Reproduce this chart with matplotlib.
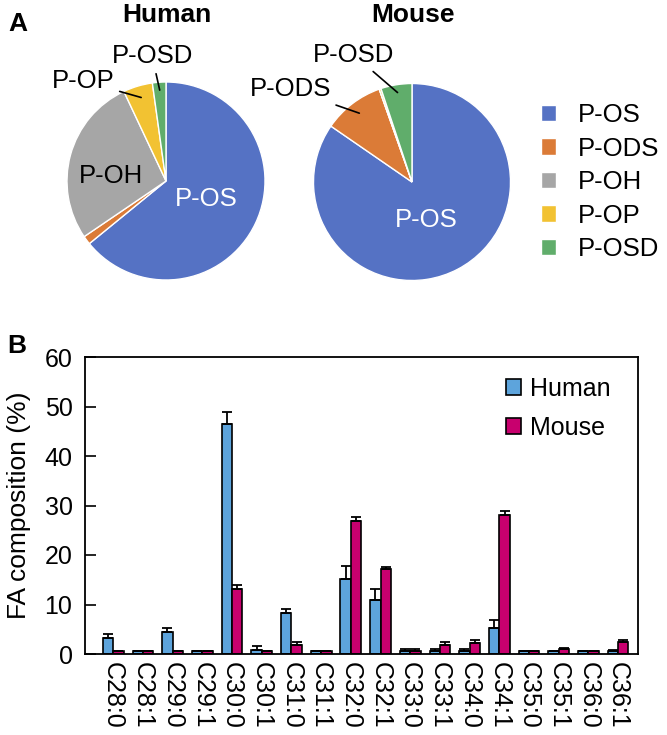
import numpy as np
import matplotlib
matplotlib.use('Agg')
import matplotlib.pyplot as plt

plt.rcParams['font.family'] = ['Liberation Sans', 'DejaVu Sans']

# ---------- panel A data (percent of total)
pie_labels = ['P-OS', 'P-ODS', 'P-OH', 'P-OP', 'P-OSD']
pie_colors = ['#5572C4', '#DB7B37', '#A6A6A6', '#F2C232', '#60AD6B']
human_pie = [64.1, 1.4, 27.5, 4.8, 2.2]
mouse_pie = [84.6, 10.0, 0.0, 0.3, 5.1]

# ---------- panel B data
categories = ['C28:0', 'C28:1', 'C29:0', 'C29:1', 'C30:0', 'C30:1', 'C31:0', 'C31:1', 'C32:0',
              'C32:1', 'C33:0', 'C33:1', 'C34:0', 'C34:1', 'C35:0', 'C35:1', 'C36:0', 'C36:1']
human = [3.2, 0.6, 4.5, 0.6, 46.4, 0.8, 8.2, 0.6, 15.1, 11.0, 0.7, 0.7, 0.7, 5.2, 0.6, 0.6, 0.6, 0.7]
human_sd = [0.9, 0.1, 0.8, 0.1, 2.5, 0.8, 0.8, 0.1, 2.7, 2.1, 0.3, 0.4, 0.4, 1.7, 0.1, 0.1, 0.1, 0.1]
mouse = [0.6, 0.6, 0.6, 0.6, 13.1, 0.6, 1.9, 0.6, 26.9, 17.1, 0.7, 1.9, 2.3, 28.0, 0.6, 1.0, 0.6, 2.4]
mouse_sd = [0.1, 0.1, 0.1, 0.1, 0.8, 0.1, 0.5, 0.1, 0.8, 0.4, 0.3, 0.5, 0.5, 0.8, 0.1, 0.2, 0.1, 0.4]

W, H = 667, 735
fig = plt.figure(figsize=(W / 100, H / 100), dpi=100)


def px_axes(cx, cy, r):
    # square axes centred on a pixel position
    return fig.add_axes([(cx - r) / W, 1 - (cy + r) / H, 2 * r / W, 2 * r / H])


def draw_pie(ax, values, inner, outer):
    wedges, _ = ax.pie(values, colors=pie_colors, startangle=90, counterclock=False,
                       wedgeprops=dict(edgecolor='white', linewidth=1.0))
    ax.set_xlim(-1, 1)
    ax.set_ylim(-1, 1)
    for idx, pos, col in inner:
        ax.text(pos[0], pos[1], pie_labels[idx], color=col, fontsize=18.5,
                ha='center', va='center')
    for idx, pos, rr in outer:
        w = wedges[idx]
        th = np.deg2rad((w.theta1 + w.theta2) / 2)
        ax.annotate(pie_labels[idx], xy=(rr * np.cos(th), rr * np.sin(th)), xytext=pos,
                    fontsize=18.5, ha='center', va='center', annotation_clip=False,
                    arrowprops=dict(arrowstyle='-', color='black', lw=1.2,
                                    shrinkA=2, shrinkB=0))
    return wedges


ax1 = px_axes(166, 181, 99)
wedges = draw_pie(ax1, human_pie,
                  inner=[(0, (0.41, -0.18), 'white'), (2, (-0.56, 0.05), 'black')],
                  outer=[(3, (-0.84, 1.01), 0.88), (4, (-0.14, 1.26), 0.92)])

ax2 = px_axes(412, 182, 98.5)
draw_pie(ax2, mouse_pie,
         inner=[(0, (0.14, -0.39), 'white')],
         outer=[(1, (-1.23, 0.94), 0.88), (4, (-0.59, 1.29), 0.92)])

fig.text(167 / W, 1 - 15 / H, 'Human', fontsize=19, fontweight='bold', ha='center', va='center')
fig.text(413 / W, 1 - 15 / H, 'Mouse', fontsize=19, fontweight='bold', ha='center', va='center')

fig.legend(wedges, pie_labels, loc='upper left', bbox_to_anchor=(541 / W, 1 - 103 / H),
           frameon=False, fontsize=18.5, handlelength=0.6, handleheight=0.6,
           handletextpad=0.85, labelspacing=0.37, borderpad=0, borderaxespad=0)

# ---------- panel B
ax3 = fig.add_axes([85 / W, 1 - 654 / H, 553 / W, 297 / H])
x = np.arange(len(categories))
bw = 0.35
err_h = [np.zeros(len(human)), human_sd]
err_m = [np.zeros(len(mouse)), mouse_sd]
ax3.bar(x - bw / 2, human, bw, color='#5DA4DC', edgecolor='black', linewidth=1.2,
        yerr=err_h, capsize=3.6, error_kw=dict(elinewidth=1.3, capthick=1.3), label='Human',
        zorder=2)
ax3.bar(x + bw / 2, mouse, bw, color='#C8006E', edgecolor='black', linewidth=1.2,
        yerr=err_m, capsize=3.6, error_kw=dict(elinewidth=1.3, capthick=1.3), label='Mouse',
        zorder=2)
ax3.set_xlim(-0.95, len(categories) - 0.33)
ax3.set_ylim(0, 60)
ax3.set_yticks(range(0, 61, 10))
ax3.set_xticks(x)
ax3.set_xticklabels(categories, rotation=270, fontsize=18)
ax3.tick_params(axis='x', length=0, pad=6)
ax3.tick_params(axis='y', direction='in', length=8, width=1.2, labelsize=18, pad=9)
ax3.tick_params(top=False, right=False)
for s in ax3.spines.values():
    s.set_linewidth(1.3)
ax3.set_ylabel('FA composition (%)', fontsize=19, labelpad=10)
ax3.legend(loc='upper left', bbox_to_anchor=(506 / W, 1 - 377 / H),
           bbox_transform=fig.transFigure, frameon=False, fontsize=18,
           handlelength=0.6, handleheight=0.6, handletextpad=0.38, labelspacing=0.6,
           borderpad=0, borderaxespad=0)

fig.text(18 / W, 1 - 24 / H, 'A', fontsize=19, fontweight='bold', ha='center', va='center')
fig.text(17 / W, 1 - 346 / H, 'B', fontsize=19, fontweight='bold', ha='center', va='center')

fig.savefig('out.png', dpi=100)
